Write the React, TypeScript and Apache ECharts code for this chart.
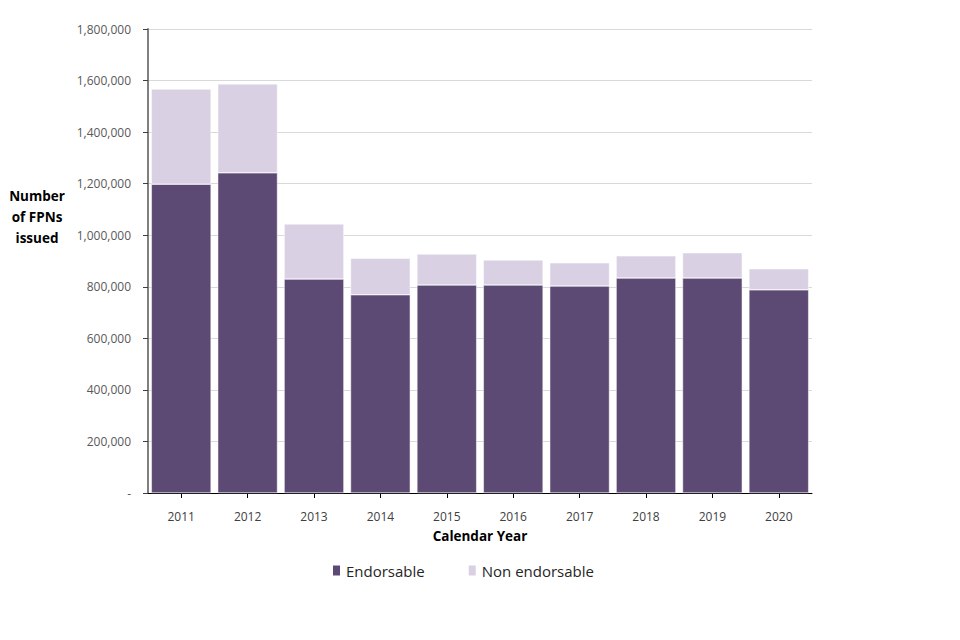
import React, { useEffect, useRef } from "react";
import * as echarts from "echarts";

const categories = ["2011", "2012", "2013", "2014", "2015", "2016", "2017", "2018", "2019", "2020"];
const endorsable = [1198000, 1242000, 830000, 769000, 807000, 807000, 803000, 834000, 834000, 788000];
const nonEndorsable = [369000, 345000, 214000, 142000, 120000, 97000, 90000, 86000, 98000, 82000];
const yTicks = { min: 0, max: 1800000, interval: 200000 };

const FONT = "'Open Sans', 'Noto Sans', sans-serif";

function fmt(v: number): string {
  if (v === 0) return "-";
  return v.toLocaleString("en-GB");
}

export default function App() {
  const ref = useRef<HTMLDivElement>(null);
  useEffect(() => {
    if (!ref.current) return;
    const chart = echarts.init(ref.current, undefined, { renderer: "svg" });
    chart.setOption({
      animation: false,
      backgroundColor: "#ffffff",
      grid: { left: 140, right: 140, top: 21, bottom: 139, containLabel: false },
      legend: {
        data: ["Endorsable", "Non endorsable"],
        bottom: 49,
        left: 318,
        itemWidth: 9,
        itemHeight: 12,
        itemGap: 42,
        icon: "rect",
        textStyle: { fontFamily: FONT, fontSize: 15, color: "#262626" },
      },
      xAxis: {
        type: "category",
        data: categories,
        name: "Calendar Year",
        nameLocation: "middle",
        nameGap: 36,
        nameTextStyle: { fontFamily: FONT, fontSize: 13.5, fontWeight: "bold", color: "#000" },
        axisLine: { lineStyle: { color: "#000000", width: 1 } },
        axisTick: { show: true, alignWithLabel: true, length: 5, lineStyle: { color: "#000" } },
        axisLabel: { fontFamily: FONT, fontSize: 12, color: "#404040", margin: 17 },
      },
      yAxis: {
        type: "value",
        min: yTicks.min,
        max: yTicks.max,
        interval: yTicks.interval,
        axisLine: { show: true, lineStyle: { color: "#808080", width: 2 } },
        axisTick: { show: true, inside: false, length: 5, lineStyle: { color: "#404040" } },
        axisLabel: {
          fontFamily: FONT,
          fontSize: 12,
          color: "#595959",
          margin: 17,
          formatter: (v: number) => fmt(v),
        },
        splitLine: { show: true, lineStyle: { color: "#d9d9d9", width: 1 } },
      },
      graphic: [
        {
          type: "text",
          x: 29,
          y: 177,
          style: {
            text: "Number\nof FPNs\nissued",
            font: `bold 13.5px ${FONT}`,
            fill: "#000",
            align: "center",
            verticalAlign: "top",
            lineHeight: 21,
          },
        },
      ],
      series: [
        {
          name: "Endorsable",
          type: "bar",
          stack: "total",
          data: endorsable,
          barCategoryGap: "10%",
          itemStyle: { color: "#5d4a74", borderColor: "#ffffff", borderWidth: 0.5 },
        },
        {
          name: "Non endorsable",
          type: "bar",
          stack: "total",
          data: nonEndorsable,
          barCategoryGap: "10%",
          itemStyle: { color: "#d9d0e3", borderColor: "#ffffff", borderWidth: 0.5 },
        },
      ],
    });
    return () => chart.dispose();
  }, []);
  return <div ref={ref} style={{ width: 944, height: 624 }} />;
}
